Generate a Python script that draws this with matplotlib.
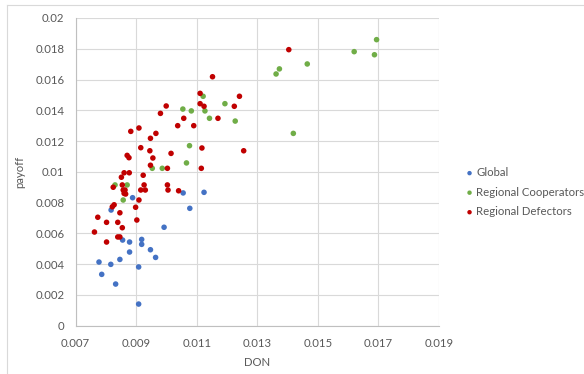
import matplotlib
matplotlib.use("Agg")
import matplotlib.pyplot as plt
from matplotlib.lines import Line2D

plt.rcParams.update({
    "font.family": ["Lato", "DejaVu Sans"],
    "font.size": 8.2,
    "text.color": "#595959",
    "axes.labelcolor": "#595959",
    "xtick.color": "#595959",
    "ytick.color": "#595959",
})

# DON vs payoff, one pair of arrays per group
global_don = [0.00888, 0.01055, 0.01124, 0.01077, 0.00817, 0.00992, 0.00855,
              0.00878, 0.00918, 0.00918, 0.00947, 0.00878, 0.00964, 0.00846,
              0.00777, 0.00816, 0.00908, 0.00786, 0.00832, 0.00908]
global_pay = [0.00832, 0.00863, 0.00867, 0.00763, 0.00752, 0.0064, 0.00557,
              0.00544, 0.00561, 0.00529, 0.00494, 0.00479, 0.00444, 0.00431,
              0.00414, 0.00399, 0.00382, 0.00334, 0.00271, 0.00141]

coop_don = [0.01465, 0.01373, 0.01362, 0.01121, 0.01193, 0.01054, 0.01082,
            0.01127, 0.01142, 0.01227, 0.01419, 0.01076, 0.01066, 0.00953,
            0.00986, 0.0162, 0.01694, 0.01687, 0.0083, 0.0087, 0.00857]
coop_pay = [0.01701, 0.01669, 0.01636, 0.01491, 0.01443, 0.01408, 0.01396,
            0.01396, 0.01348, 0.0133, 0.0125, 0.0117, 0.01058, 0.01023,
            0.01023, 0.01781, 0.01859, 0.01761, 0.00915, 0.00915, 0.00817]

defect_don = [0.01404, 0.01152, 0.01111, 0.01241, 0.01111, 0.01124, 0.01224,
              0.00999, 0.0098, 0.01057, 0.0117, 0.01037, 0.0109, 0.00909,
              0.00882, 0.00965, 0.00947, 0.00915, 0.00945, 0.01117, 0.01255,
              0.01015, 0.0087, 0.00876, 0.00955, 0.00947, 0.01003, 0.01115,
              0.0086, 0.00877, 0.00851, 0.00923, 0.00854, 0.00824, 0.00926,
              0.01003, 0.00857, 0.00863, 0.00915, 0.0093, 0.01005, 0.0104,
              0.0086, 0.00865, 0.00909, 0.00898, 0.00827, 0.00821, 0.00846,
              0.00773, 0.00802, 0.00839, 0.00902, 0.00854, 0.00762, 0.00839,
              0.00846, 0.00802]
defect_pay = [0.01794, 0.01618, 0.0151, 0.01491, 0.01443, 0.01426, 0.01426,
              0.01428, 0.0138, 0.01348, 0.01348, 0.013, 0.013, 0.01285,
              0.01263, 0.0125, 0.01218, 0.01157, 0.01137, 0.01155, 0.01137,
              0.0112, 0.01107, 0.01092, 0.0109, 0.01043, 0.01023, 0.01023,
              0.00994, 0.00994, 0.00965, 0.00978, 0.00915, 0.009, 0.00915,
              0.00915, 0.00882, 0.00882, 0.00882, 0.00882, 0.00882, 0.00877,
              0.0086, 0.00856, 0.00817, 0.0077, 0.00786, 0.00773, 0.00734,
              0.00705, 0.00672, 0.00672, 0.00687, 0.00637, 0.00609, 0.00577,
              0.00577, 0.00544]

groups = [
    ("Global", global_don, global_pay, "#4472C4"),
    ("Regional Cooperators", coop_don, coop_pay, "#70AD47"),
    ("Regional Defectors", defect_don, defect_pay, "#C00000"),
]

xticks = [0.007, 0.009, 0.011, 0.013, 0.015, 0.017, 0.019]
yticks = [0, 0.002, 0.004, 0.006, 0.008, 0.01, 0.012, 0.014, 0.016, 0.018, 0.02]

fig = plt.figure(figsize=(5.84, 3.74), dpi=100)
ax = fig.add_axes([0.1296, 0.129, 0.622, 0.823])

# chart-area frame: only its top and left edges fall inside the image
frame = dict(transform=fig.transFigure, color="#D9D9D9", lw=0.8)
fig.lines.append(Line2D([0.012, 1.0], [0.986, 0.986], **frame))
fig.lines.append(Line2D([0.012, 0.012], [0.0, 0.986], **frame))

for name, xs, ys, col in groups:
    ax.scatter(xs, ys, s=16, color=col, edgecolors="none", label=name, zorder=3)

ax.set_xlim(0.007, 0.019)
ax.set_ylim(0, 0.02)
ax.set_xticks(xticks)
ax.set_xticklabels([f"{t:g}" for t in xticks])
ax.set_yticks(yticks)
ax.set_yticklabels([f"{t:g}" for t in yticks])
ax.grid(True, color="#D9D9D9", lw=0.8, zorder=0)
ax.set_axisbelow(True)
for side in ("top", "right"):
    ax.spines[side].set_visible(False)
for side in ("left", "bottom"):
    ax.spines[side].set_color("#BFBFBF")
    ax.spines[side].set_linewidth(0.8)
ax.tick_params(axis="y", length=0, pad=8)
ax.tick_params(axis="x", length=0, pad=8.5)

ax.set_xlabel("DON", labelpad=6)
ax.set_ylabel("payoff", labelpad=7)

ax.legend(loc="center left", bbox_to_anchor=(1.056, 0.434), frameon=False,
          handletextpad=0.1, markerscale=0.8, labelspacing=0.75,
          borderaxespad=0.0, handlelength=1.0)

fig.savefig("out.png", dpi=100)
